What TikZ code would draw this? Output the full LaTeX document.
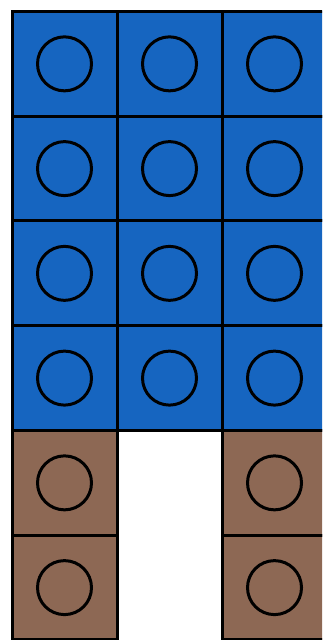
\documentclass[tikz,border=0pt]{standalone}
\begin{document}
\begin{tikzpicture}[x=0.5pt,y=0.5pt]
\definecolor{fillColor}{RGB}{255,255,255}
\path[use as bounding box,fill=fillColor] (0,0) rectangle (322.00,640.00);
\begin{scope}
\path[clip] (  0.00,  0.00) rectangle (322.00,640.00);
\definecolor{drawColor}{RGB}{0,0,0}
\definecolor{fillColor}{RGB}{22,101,192}

\path[draw=drawColor,line width= 1.5pt,fill=fillColor] ( 12.00,523.75) rectangle (117.00,628.50);

\path[draw=drawColor,line width= 1.5pt,fill=fillColor] (117.00,523.75) rectangle (222.00,628.50);

\path[draw=drawColor,line width= 1.5pt,fill=fillColor] (222.00,523.75) rectangle (327.00,628.50);

\path[draw=drawColor,line width= 1.5pt,fill=fillColor] ( 12.00,419.00) rectangle (117.00,523.75);

\path[draw=drawColor,line width= 1.5pt,fill=fillColor] (117.00,419.00) rectangle (222.00,523.75);

\path[draw=drawColor,line width= 1.5pt,fill=fillColor] (222.00,419.00) rectangle (327.00,523.75);

\path[draw=drawColor,line width= 1.5pt,fill=fillColor] ( 12.00,314.25) rectangle (117.00,419.00);

\path[draw=drawColor,line width= 1.5pt,fill=fillColor] (117.00,314.25) rectangle (222.00,419.00);

\path[draw=drawColor,line width= 1.5pt,fill=fillColor] (222.00,314.25) rectangle (327.00,419.00);

\path[draw=drawColor,line width= 1.5pt,fill=fillColor] ( 12.00,209.50) rectangle (117.00,314.25);

\path[draw=drawColor,line width= 1.5pt,fill=fillColor] (117.00,209.50) rectangle (222.00,314.25);

\path[draw=drawColor,line width= 1.5pt,fill=fillColor] (222.00,209.50) rectangle (327.00,314.25);
\definecolor{fillColor}{RGB}{141,104,84}

\path[draw=drawColor,line width= 1.5pt,fill=fillColor] ( 12.00,104.75) rectangle (117.00,209.50);

\path[draw=drawColor,line width= 1.5pt,fill=fillColor] (222.00,104.75) rectangle (327.00,209.50);

\path[draw=drawColor,line width= 1.5pt,fill=fillColor] ( 12.00,  0.00) rectangle (117.00,104.75);

\path[draw=drawColor,line width= 1.5pt,fill=fillColor] (222.00,  0.00) rectangle (327.00,104.75);

\path[draw=drawColor,line width= 1.5pt] ( 64.50,576.13) circle ( 27.00);

\path[draw=drawColor,line width= 1.5pt] (169.50,576.13) circle ( 27.00);

\path[draw=drawColor,line width= 1.5pt] (274.50,576.13) circle ( 27.00);

\path[draw=drawColor,line width= 1.5pt] ( 64.50,471.38) circle ( 27.00);

\path[draw=drawColor,line width= 1.5pt] (169.50,471.38) circle ( 27.00);

\path[draw=drawColor,line width= 1.5pt] (274.50,471.38) circle ( 27.00);

\path[draw=drawColor,line width= 1.5pt] ( 64.50,366.63) circle ( 27.00);

\path[draw=drawColor,line width= 1.5pt] (169.50,366.63) circle ( 27.00);

\path[draw=drawColor,line width= 1.5pt] (274.50,366.63) circle ( 27.00);

\path[draw=drawColor,line width= 1.5pt] ( 64.50,261.88) circle ( 27.00);

\path[draw=drawColor,line width= 1.5pt] (169.50,261.88) circle ( 27.00);

\path[draw=drawColor,line width= 1.5pt] (274.50,261.88) circle ( 27.00);

\path[draw=drawColor,line width= 1.5pt] ( 64.50,157.13) circle ( 27.00);

\path[draw=drawColor,line width= 1.5pt] (274.50,157.13) circle ( 27.00);

\path[draw=drawColor,line width= 1.5pt] ( 64.50, 52.38) circle ( 27.00);

\path[draw=drawColor,line width= 1.5pt] (274.50, 52.38) circle ( 27.00);
\end{scope}
\end{tikzpicture}
\end{document}
